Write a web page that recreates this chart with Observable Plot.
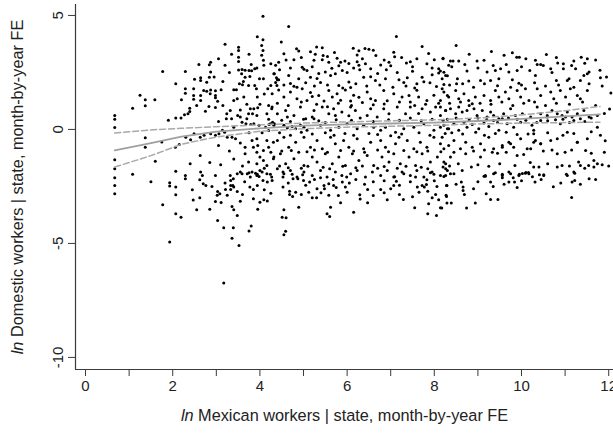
<!DOCTYPE html>
<html><head><meta charset="utf-8">
<script src="https://cdn.jsdelivr.net/npm/d3@7"></script>
<script src="https://cdn.jsdelivr.net/npm/@observablehq/plot@0.6"></script>
<style>html,body{margin:0;padding:0;background:#fff;}</style>
</head><body><div id="chart"></div>
<script>
const xTicks = [0,1,2,3,4,5,6,7,8,9,10,11,12];
const xTickLabels = ["0","","2","","4","","6","","8","","10","","12"];
const yTicks = [-10,-5,0,5];
const xTitle = "ln Mexican workers | state, month-by-year FE";
const yTitle = "ln Domestic workers | state, month-by-year FE";

// fitted local polynomial and its 95% band
const fitX  = [0.67,1.5,2.2,3,4,5,6,7,8,9,10,11,11.8];
const fitY  = [-0.92,-0.6,-0.32,-0.1,0.05,0.17,0.22,0.26,0.3,0.37,0.46,0.57,0.66];
const ciHi  = [-0.16,-0.02,0.05,0.12,0.2,0.28,0.33,0.38,0.42,0.5,0.64,0.82,1.01];
const ciLo  = [-1.65,-1.15,-0.65,-0.33,-0.08,0.03,0.1,0.14,0.18,0.24,0.28,0.3,0.32];

// scatter points [x, y]
const scatterLeft = [
[4.07,4.97],[1.77,2.54],[2.29,2.54],[1.08,0.93],[1.37,1.30],[1.37,1.04],[1.59,1.30],[0.67,0.61],[0.67,0.45],[0.67,0.09],[1.37,-0.36],[1.37,-0.78],[0.67,-1.33],[0.67,-1.72],[0.67,-2.12],[1.08,-1.97],
[3.2,3.74],[3.51,3.61],[3.51,3.46],[3.51,3.17],[3.51,2.98],[2.87,2.95],[2.84,2.84],[3.2,2.81],[2.64,2.27],[2.64,2.15],[2.78,2.07],[2.84,2.29],[2.87,2.52],[2.07,2.0],[2.29,1.78],[2.29,1.59],[2.48,1.78],
[2.71,1.71],[2.78,1.68],[2.87,1.73],[2.98,1.70],[3.11,1.74],[2.64,1.49],[2.64,1.27],[2.48,1.49],[2.48,1.32],[2.86,1.57],[2.98,1.49],[2.98,1.39],[3.03,1.24],[2.83,1.01],[2.98,0.96],[2.39,0.93],[2.39,0.79],[2.35,0.69],[2.07,0.5],[2.19,0.5],[2.27,0.64],
[3.4,1.74],[3.46,1.74],[3.53,2.0],[3.6,1.96],[3.74,1.93],[3.51,2.61],[3.59,2.63],[3.66,2.6],[3.75,2.59],[3.81,2.57],[3.88,2.66],[3.58,2.44],[3.66,2.29],[3.62,2.1],[3.77,2.32],
[3.94,4.07],[4.07,3.93],[4.04,3.68],[4.07,3.46],[4.04,3.25],[4.08,3.03],[4.09,2.81],[3.93,2.69],[3.99,2.22],[4.08,2.22],[3.88,1.93],[3.92,1.78],[3.94,1.42],[4.25,2.88],[4.33,2.44],[4.4,2.18],[4.39,1.93],[4.25,1.93],[4.18,1.78],
[3.4,1.27],[3.48,1.35],[3.63,1.42],[3.78,0.91],[3.86,0.91],[3.74,0.69],[3.83,0.69],[3.7,0.47],[3.93,0.61],[4.2,1.05],[4.27,0.91],[4.16,0.69],
[3.24,0.69],[3.32,0.83],[3.23,0.47],[3.35,0.47],[3.49,0.61],[3.55,0.54],[3.59,0.32],[3.68,0.25],[3.79,0.22],[3.86,0.25],[3.98,0.18],[4.13,0.1],[4.21,0.22],[4.29,0.32],[4.33,0.25],
[2.87,-0.19],[2.98,-0.26],[3.06,-0.19],[3.14,-0.04],[3.19,-0.12],[3.25,-0.34],[3.36,-0.34],[3.44,-0.41],[2.3,-0.34],[2.41,-0.45],[2.49,-0.19],[2.63,-0.34],[2.72,-0.26],[2.15,-0.66],[2.06,-0.78],
[3.66,-0.78],[3.85,-0.78],[3.93,-0.41],[3.82,-0.48],[4.16,-0.48],[4.31,-0.56],[4.08,-0.92],[4.2,-0.78],[2.63,-1.14],
[3.66,-1.07],[3.93,-1.0],[4.0,-1.21],[3.74,-1.43],[3.93,-1.51],[4.08,-1.36],[4.16,-1.58],[4.31,-1.29],
[2.07,-1.83],[2.29,-2.02],[2.29,-2.16],[2.64,-1.87],[2.68,-2.02],[2.98,-2.02],[3.32,-2.02],[3.48,-1.94],[3.55,-1.87],[3.71,-1.94],[3.82,-1.87],[3.93,-2.02],[4.0,-1.8],[4.16,-1.94],[4.27,-2.09],
[0.67,-2.46],[0.67,-2.82],[2.07,-2.53],[2.07,-2.86],[1.93,-2.34],[1.93,-2.48],[2.62,-2.21],[2.7,-2.38],[2.76,-2.46],[1.77,-3.3],[2.47,-3.09],[2.62,-3.0],[2.55,-3.52],[2.07,-3.7],[2.19,-3.85],[1.93,-4.94],[3.17,-6.74],
[3.03,-2.72],[3.08,-2.82],[3.02,-2.89],[2.98,-3.16],[3.11,-3.21],[3.21,-2.63],[3.25,-2.89],[3.33,-2.63],[3.38,-2.46],[3.4,-2.53],[3.48,-2.72],[3.33,-2.24],[3.39,-2.16],[3.33,-2.46],
[3.36,-3.38],[3.4,-3.52],[3.48,-3.77],[3.03,-3.99],[3.17,-4.31],[3.39,-4.31],[3.36,-4.77],[3.52,-5.09],[3.75,-4.46],[3.8,-4.24],
[3.59,-1.94],[3.75,-1.9],[3.78,-2.09],[3.9,-1.92],[3.94,-1.97],[3.98,-2.06],[4.05,-1.87],[4.07,-2.24],[4.17,-2.31],[4.24,-1.97],[4.28,-2.24],[3.77,-2.53],[3.85,-2.63],[3.94,-2.46],[3.85,-3.04],[4.0,-3.19],[4.09,-3.08],[4.17,-3.14]
];
const scatterLeftExtra = [
[2.5,2.2],[2.95,2.3],[3.3,2.5],[3.15,2.1],[2.6,2.85],[3.05,3.1],[3.35,3.3],[3.75,3.3],[3.8,2.85],[2.2,1.3],[2.55,1.05],[2.75,0.8],[3.15,1.05],[3.7,1.1],[3.55,0.85],[4.0,1.1],[4.1,1.55],[4.2,0.45],[3.95,0.95],[3.05,0.35],
[3.4,0.1],[3.75,-0.15],[4.05,-0.15],[4.2,-0.05],[3.55,-0.6],[3.3,-0.95],[3.05,-0.7],[3.95,-0.7],[4.25,-1.0],[3.4,-1.3],[3.1,-1.55],[3.6,-1.6],[2.85,-1.45],[2.4,-1.5],[4.1,-1.7],[3.2,-2.35],[2.9,-2.5],[3.65,-2.3],[4.1,-2.65],[3.6,-2.85],
[3.55,-3.15],[3.95,-3.5],[4.25,-2.8],[2.85,-3.5],[2.45,-2.65],[1.9,0.4],[1.75,-0.55],[1.6,-1.4],[1.5,-2.3],[1.25,1.5]
];
const scatterLow = [
[4.55,-3.52],[4.51,-3.85],[4.6,-3.87],[4.59,-4.47],[4.55,-4.62],[4.89,-3.41],[4.68,-2.71],[4.68,-2.85],[4.75,-2.94],[4.82,-2.75],[4.53,-2.53],[4.53,-2.09],[4.53,-1.87],[4.74,-1.97],[4.76,-2.16],[4.87,-2.16],[4.98,-1.99],[5.0,-2.24],
[5.12,-2.75],[5.2,-3.0],[5.3,-3.0],[5.14,-2.31],[5.31,-2.6],[5.39,-2.12],[5.47,-2.46],[5.48,-2.6],[5.58,-2.89],[5.62,-3.41],[5.54,-3.7],[5.6,-3.82],[5.58,-2.38],[5.68,-2.2],[5.69,-2.46],[5.85,-3.22],[5.89,-2.31],[5.96,-2.53],[5.99,-2.09],[6.15,-3.63],[6.29,-2.86],[6.47,-2.64],[6.47,-3.22],[6.77,-2.64],[6.92,-3.08],[7.07,-2.46],[7.13,-2.27],[7.09,-2.07],[7.29,-3.07],[7.3,-1.94],
[7.57,-2.09],[7.61,-2.53],[7.72,-2.46],[7.77,-2.53],[7.82,-2.41],[7.83,-2.21],[7.85,-2.71],[7.91,-1.9],[7.99,-1.97],[8.03,-2.85],[8.06,-2.5],[8.1,-3.08],[8.14,-3.43],[8.22,-2.06],[8.28,-2.46],[8.27,-2.89],[8.29,-3.23],[7.55,-3.43],[7.85,-3.7],[8.05,-3.77],[7.87,-3.26],
[8.26,-2.02],[8.37,-1.94],[8.29,-2.46],[8.28,-2.94],[8.39,-3.23],[8.17,-3.45],[8.62,-2.31],[8.66,-2.53],[8.66,-2.68],[8.69,-2.85],[8.94,-3.23],[8.74,-3.45],[9.14,-2.05],[9.17,-2.05],[9.29,-2.31],[9.19,-2.82],[9.29,-3.07],[9.46,-3.07],[9.4,-1.9],[9.56,-1.97],[9.56,-2.12],[9.71,-1.87],[9.71,-2.31],[9.81,-2.12],[9.84,-2.31],[9.95,-1.97],[10.02,-1.93],[10.1,-1.89],[10.16,-1.89],[10.25,-2.08],[10.31,-2.31],[10.41,-1.99],[10.51,-1.99],[10.73,-2.51],[11.03,-1.97],[11.15,-2.99],[11.16,-2.31],[11.22,-2.24],[11.22,-1.92],[11.55,-2.16]
];
const scatterMid = [
[4.66,4.52],[7.13,4.08],[4.49,3.83],[7.72,3.64],
[4.84,3.54],[4.89,3.44],[5.16,3.41],[5.3,3.62],[5.43,3.58],[5.27,3.3],[5.45,3.24],[5.71,3.37],[6.14,3.56],[6.27,3.45],[6.41,3.55],[6.5,3.52],[6.6,3.47],[6.66,3.24],[6.23,3.27],[7.07,3.39],[7.09,3.19],[7.87,3.33],
[4.36,2.81],[4.43,2.95],[4.55,3.32],[4.78,3.06],[4.97,2.73],[5.01,2.64],[5.24,3.03],[5.43,3.06],[5.58,2.95],[5.77,3.12],[5.85,2.95],[5.81,2.79],[5.89,2.59],[6.04,2.89],[6.23,2.97],[6.27,2.81],[6.29,2.62],[6.42,2.88],[6.54,2.66],[6.77,2.83],[6.96,2.95],[7.0,2.79],[7.36,2.91],[7.45,2.97],[7.6,3.1],[7.83,2.88],[8.0,3.06],[8.2,3.12],[8.1,2.66],[8.22,2.51],[8.33,2.81],
[4.32,2.44],[4.38,2.27],[4.43,2.18],[4.36,2.06],[4.66,2.37],[4.7,2.01],[4.78,1.89],[4.89,2.22],[5.08,2.59],[5.16,2.29],[5.31,2.23],[5.39,2.06],[5.5,2.52],[5.62,2.37],[5.73,2.44],[5.81,1.93],[6.04,2.08],[6.08,1.84],[6.38,2.29],[6.54,2.31],[6.65,2.15],[6.88,2.22],[7.19,2.18],[7.3,2.06],[7.38,2.27],[7.6,2.0],[7.72,2.29],[7.76,2.09],[8.1,2.48],[8.18,2.22],[8.22,1.97],
[4.28,1.57],[4.43,1.73],[4.55,1.42],[4.7,1.64],[4.85,1.35],[4.97,1.78],[5.08,1.27],[5.16,1.62],[5.2,1.44],[5.35,1.49],[5.47,1.25],[5.58,1.71],[5.66,1.42],[5.77,1.57],[5.85,1.28],[5.96,1.73],[6.08,1.25],[6.15,1.5],[6.27,1.41],[6.46,1.64],[6.54,1.35],[6.65,1.27],[6.84,1.71],[6.92,1.26],[7.07,1.57],[7.26,1.42],[7.42,1.49],[7.45,1.2],[7.6,1.72],[7.64,1.42],[7.83,1.27],[7.99,1.5],[8.14,1.27],[8.22,1.64],[8.33,1.42],
[4.28,0.98],[4.4,0.69],[4.59,0.83],[4.63,0.54],[4.78,0.61],[4.93,0.98],[5.05,0.47],[5.2,0.55],[5.24,0.83],[5.43,0.98],[5.58,0.69],[5.69,0.91],[5.73,0.61],[5.88,0.76],[6.04,0.6],[6.08,0.98],[6.19,0.83],[6.46,0.61],[6.54,0.91],[6.69,0.54],[6.84,0.91],[6.96,0.69],[7.15,0.98],[7.34,0.69],[7.45,0.98],[7.64,0.7],[7.72,0.91],[7.91,0.76],[8.03,0.98],[8.14,0.61],[8.26,0.83],
[4.24,0.25],[4.32,0.18],[4.55,0.18],[4.63,0.07],[4.74,0.13],[4.82,0.03],[4.93,0.18],[5.01,0.1],[5.08,-0.04],[5.24,0.47],[5.39,0.18],[5.62,-0.04],[5.81,0.1],[6.0,0.25],[6.23,0.03],[6.38,0.18],[6.61,0.1],[6.77,-0.04],[6.88,0.1],[7.11,-0.12],[7.3,0.03],[7.53,0.1],[7.76,0.25],[7.99,-0.04],[8.14,0.1],[8.3,0.03],
[4.4,-0.48],[4.55,-0.34],[4.66,-0.78],[4.82,-0.56],[5.01,-0.34],[5.16,-0.78],[5.31,-0.48],[5.43,-0.85],[5.62,-0.34],[5.73,-0.63],[5.92,-0.48],[6.04,-0.78],[6.23,-0.41],[6.38,-0.85],[6.54,-0.56],[6.77,-0.48],[6.88,-0.78],[7.11,-0.63],[7.19,-0.34],[7.38,-0.48],[7.53,-0.85],[7.68,-0.56],[7.83,-0.78],[7.99,-0.34],[8.14,-0.63],[8.22,-0.85],
[4.32,-1.21],[4.47,-1.07],[4.59,-1.5],[4.78,-1.29],[4.89,-1.0],[5.01,-1.58],[5.2,-1.21],[5.31,-1.43],[5.5,-1.07],[5.66,-1.5],[5.81,-1.21],[5.96,-1.58],[6.12,-1.07],[6.27,-1.36],[6.46,-1.14],[6.61,-1.58],[6.8,-1.21],[6.96,-1.43],[7.07,-1.07],[7.22,-1.5],[7.42,-1.21],[7.57,-1.58],[7.72,-1.07],[7.91,-1.43],[8.07,-1.21],[8.26,-1.5],
[4.4,-1.72],[4.55,-1.94],[4.7,-1.8],[4.85,-2.09],[5.01,-1.87],[5.2,-2.02],[5.39,-1.8],[5.54,-2.09],[5.73,-1.87],[5.88,-2.02],[6.08,-1.94],[6.23,-1.8],[6.42,-2.09],[6.58,-1.87],[6.77,-2.02],[6.92,-1.8],[7.07,-2.09],[7.26,-1.87],[7.45,-2.02],[7.6,-1.8],[7.76,-2.09],[7.95,-1.87],[8.14,-2.02],[8.3,-1.8]
];
const scatterMidExtra = [
[4.6,3.05],[4.95,3.15],[5.55,3.2],[5.95,3.0],[6.35,3.1],[6.85,3.05],[7.25,3.15],[7.5,2.75],[7.95,2.7],
[4.45,2.62],[4.7,2.7],[5.2,2.75],[5.35,2.45],[5.65,2.68],[6.0,2.5],[6.15,2.7],[6.7,2.45],[6.9,2.62],[7.15,2.5],[7.5,2.55],[7.95,2.4],[8.3,2.35],
[4.55,1.95],[4.85,1.85],[5.05,2.05],[5.25,1.9],[5.55,1.95],[5.9,1.82],[6.2,2.0],[6.45,1.9],[6.75,1.95],[7.05,1.85],[7.35,1.9],[7.55,1.82],[7.9,2.05],[8.05,1.88],
[4.4,1.15],[4.65,1.05],[4.95,1.2],[5.3,1.1],[5.55,1.0],[5.8,1.15],[6.1,1.05],[6.35,1.18],[6.6,1.08],[6.85,1.12],[7.2,1.2],[7.55,1.05],[7.8,1.1],[8.1,1.15],
[4.5,0.4],[4.7,0.35],[5.0,0.45],[5.35,0.38],[5.5,0.3],[5.75,0.42],[6.1,0.4],[6.3,0.5],[6.6,0.35],[6.95,0.42],[7.2,0.4],[7.45,0.5],[7.7,0.38],[7.95,0.45],[8.2,0.4],
[4.45,-0.15],[4.7,-0.25],[4.95,-0.12],[5.2,-0.2],[5.5,-0.15],[5.7,-0.25],[5.95,-0.18],[6.15,-0.25],[6.5,-0.18],[6.7,-0.22],[7.0,-0.28],[7.25,-0.2],[7.65,-0.15],[7.9,-0.25],[8.25,-0.18],
[4.5,-0.95],[4.72,-0.92],[5.08,-0.98],[5.25,-0.9],[5.55,-1.0],[5.85,-0.92],[6.15,-0.95],[6.4,-1.0],[6.7,-0.9],[6.95,-0.98],[7.3,-0.92],[7.6,-0.98],[7.85,-0.95],[8.15,-0.98],
[4.45,-1.6],[4.65,-1.68],[4.95,-1.7],[5.1,-1.62],[5.45,-1.66],[5.6,-1.72],[5.9,-1.62],[6.2,-1.68],[6.35,-1.6],[6.7,-1.7],[6.85,-1.63],[7.15,-1.7],[7.35,-1.62],[7.7,-1.66],[7.85,-1.72],[8.2,-1.65],
[4.65,-2.35],[5.05,-2.45],[5.25,-2.2],[5.75,-2.55],[6.05,-2.35],[6.2,-2.2],[6.4,-2.4],[6.6,-2.3],[6.85,-2.25],[7.0,-2.6],[7.2,-2.45],[7.45,-2.3],[7.65,-2.75],[8.0,-2.25],
[4.95,-2.85],[5.4,-2.78],[5.8,-2.9],[6.0,-2.75],[6.3,-3.05],[6.6,-2.9],[6.85,-2.78],[7.2,-2.85],[7.5,-2.95],[7.95,-3.0]
];
const scatterRight = [
[8.5,3.68],[9.31,3.42],[9.79,3.36],[9.89,3.17],[9.95,3.17],[10.57,3.29],[11.37,3.17],[11.51,3.1],[8.2,3.1],[8.37,3.0],[8.43,3.0],[8.56,3.0],[8.98,3.0],[9.14,3.03],[10.32,3.03],[10.36,2.85],[10.44,2.85],[10.83,2.91],[10.96,2.88],[10.96,2.66],[11.24,2.66],
[8.14,2.56],[8.26,2.37],[8.53,2.22],[8.51,2.0],[8.75,2.56],[8.79,2.12],[9.06,2.15],[9.21,2.52],[9.29,2.15],[9.4,2.59],[9.52,2.66],[9.48,2.22],[9.71,2.52],[9.9,2.59],[9.79,2.18],[9.94,2.03],[10.09,1.78],[10.19,2.59],[10.32,2.37],[10.67,2.66],[10.8,2.15],[11.05,2.15],[11.09,2.22],[11.35,2.15],[11.43,2.37],[11.51,2.44],[11.55,2.52],[11.81,2.27],
[8.18,1.78],[8.3,1.49],[8.49,1.71],[8.56,1.35],[8.68,1.57],[8.79,1.27],[8.94,1.42],[9.14,1.49],[9.29,1.27],[9.4,1.71],[9.48,1.42],[9.63,1.64],[9.71,1.35],[9.9,1.71],[9.98,1.42],[10.17,1.27],[10.36,1.78],[10.44,1.49],[10.67,1.64],[10.74,1.35],[10.89,1.71],[11.01,1.42],[11.12,1.78],[11.28,1.49],[11.35,1.35],[11.51,1.71],
[8.14,0.98],[8.26,0.83],[8.37,0.91],[8.49,0.69],[8.56,0.98],[8.64,0.76],[8.75,0.83],[8.87,1.13],[8.91,0.91],[8.98,0.61],[9.1,0.83],[9.21,0.54],[9.29,0.76],[9.36,0.61],[9.48,0.47],[9.59,0.69],[9.75,0.91],[9.86,0.61],[10.02,0.69],[10.21,0.54],[10.36,0.98],[10.44,0.69],[10.59,0.61],[10.7,0.83],[10.82,0.69],[10.93,0.61],[11.05,0.76],[11.16,0.54],[11.28,0.69],[11.43,0.83],[11.55,0.54],[11.74,0.61],
[8.22,0.18],[8.33,0.03],[8.45,0.25],[8.56,-0.04],[8.68,0.32],[8.75,0.1],[8.87,0.22],[9.02,0.03],[9.14,0.28],[9.25,0.13],[9.36,0.39],[9.48,-0.04],[9.56,0.47],[9.67,0.25],[9.82,0.1],[9.98,0.32],[10.24,0.18],[10.28,-0.04],[10.44,0.39],[10.59,0.54],[10.78,0.43],[10.89,0.25],[11.01,0.54],[11.2,0.39],[11.35,0.47],[11.74,0.1],
[8.18,-0.34],[8.33,-0.7],[8.45,-0.48],[8.6,-0.85],[8.72,-0.56],[8.87,-0.78],[9.06,-0.63],[9.25,-0.34],[9.36,-0.85],[9.56,-0.7],[9.71,-0.56],[9.82,-0.78],[9.98,-0.41],[10.21,-0.85],[10.28,-0.56],[10.44,-0.63],[10.67,-0.48],[10.82,-0.41],[11.05,-0.12],[11.28,-0.56],[11.51,-0.41],[11.81,-0.26],
[8.22,-1.43],[8.37,-1.21],[8.72,-1.07],[9.06,-1.21],[9.33,-1.0],[9.56,-0.78],[9.75,-0.63],[9.9,-1.14],[10.13,-0.85],[10.28,-0.19],[10.32,-0.48],[10.44,-0.63],[10.82,-1.07],[11.28,-0.56],[11.35,-1.58],[11.66,-1.36],[11.74,-1.5],[11.47,-0.92],
[8.26,-1.72],[8.45,-1.94],[8.64,-1.8],[9.17,-2.02],[9.36,-1.94],[9.56,-2.02],[9.75,-1.94],[9.94,-2.02],[10.09,-1.92],[10.17,-1.94],[10.28,-1.65],[10.4,-1.65],[10.51,-2.02],[10.82,-1.65],[10.93,-1.58],[11.05,-2.02],[11.2,-1.87],[11.31,-1.43],[11.54,-1.58],[11.66,-1.65],
[11.95,2.3],[12.02,0.9],[11.92,-0.5],[12.0,-1.6],[12.05,1.6]
];
const scatterRightExtra = [
[8.8,3.3],[9.6,3.25],[10.1,3.1],[10.8,3.15],[11.2,3.0],[11.7,3.05],
[8.4,2.75],[8.7,2.85],[9.0,2.7],[9.35,2.8],[9.65,2.85],[10.0,2.75],[10.5,2.8],[10.7,2.5],[11.15,2.8],[11.45,2.9],[11.8,2.6],
[8.35,1.95],[8.65,2.0],[8.9,1.85],[9.15,2.0],[9.45,1.92],[9.75,1.85],[10.0,1.95],[10.3,2.05],[10.55,1.9],[10.85,1.95],[11.2,1.85],[11.55,2.0],[11.85,1.9],
[8.35,1.15],[8.6,1.2],[8.8,1.05],[9.05,1.15],[9.3,1.1],[9.55,1.2],[9.8,1.05],[10.05,1.15],[10.3,1.2],[10.55,1.05],[10.8,1.15],[11.1,1.1],[11.4,1.2],[11.7,1.05],
[8.3,0.45],[8.5,0.5],[8.8,0.42],[9.0,0.5],[9.2,0.42],[9.45,0.3],[9.7,0.5],[9.9,0.45],[10.1,0.4],[10.35,0.3],[10.6,0.38],[10.95,0.45],[11.1,0.3],[11.45,0.35],[11.6,0.5],[11.9,0.7],
[8.4,-0.15],[8.65,-0.2],[8.95,-0.12],[9.15,-0.25],[9.4,-0.18],[9.65,-0.12],[9.9,-0.22],[10.15,-0.2],[10.6,-0.15],[10.95,-0.25],[11.2,-0.18],[11.6,-0.1],
[8.45,-1.0],[8.9,-0.95],[9.15,-0.9],[9.45,-1.05],[9.65,-1.0],[10.05,-1.1],[10.5,-0.95],[10.7,-0.9],[11.0,-1.0],[11.15,-0.9],[11.6,-1.05],[11.9,-1.0],
[8.35,-1.6],[8.55,-1.5],[8.85,-1.65],[9.0,-1.55],[9.25,-1.62],[9.5,-1.5],[9.85,-1.58],[10.2,-1.45],[10.6,-1.5],[11.1,-1.6],[11.45,-1.7],[11.85,-1.55],
[8.5,-2.4],[8.9,-2.6],[9.0,-2.3],[9.35,-2.5],[9.6,-2.4],[9.9,-2.55],[10.0,-2.25],[10.45,-2.2],[10.9,-2.35],[11.35,-2.4],[11.7,-2.2]
];

const X0 = -0.23, X1 = 12.11, Y0 = -10.53, Y1 = 5.48;
const points = [...scatterLeft, ...scatterLeftExtra, ...scatterLow, ...scatterMid, ...scatterMidExtra, ...scatterRight, ...scatterRightExtra].map(([x, y]) => ({x, y}));
const fit = fitX.map((x, i) => ({x, fit: fitY[i], hi: ciHi[i], lo: ciLo[i]}));
const axisColor = "#3a3a3a";

const chart = Plot.plot({
  width: 613, height: 434,
  marginLeft: 75, marginRight: 0, marginTop: 4, marginBottom: 65,
  x: {domain: [X0, X1]},
  y: {domain: [Y0, Y1]},
  style: {fontFamily: "'Liberation Sans', Arial, Helvetica, sans-serif", fontSize: "15px", color: "#222", background: "#fff"},
  marks: [
    Plot.dot(points, {x: "x", y: "y", r: 1.5, fill: "#000", stroke: null}),
    Plot.line(fit, {x: "x", y: "hi", stroke: "#a8a8a8", strokeWidth: 1.5, strokeDasharray: "6,3"}),
    Plot.line(fit, {x: "x", y: "lo", stroke: "#a8a8a8", strokeWidth: 1.5, strokeDasharray: "6,3"}),
    Plot.line(fit, {x: "x", y: "fit", stroke: "#a0a0a0", strokeWidth: 1.8}),
    Plot.ruleX([X0], {stroke: axisColor, strokeWidth: 1.2}),
    Plot.ruleY([Y0], {stroke: axisColor, strokeWidth: 1.2}),
    Plot.axisX({ticks: xTicks, tickSize: 7, tickPadding: 4, tickFormat: d => xTickLabels[xTicks.indexOf(d)], label: null, stroke: axisColor, fontSize: 15}),
    Plot.axisY({ticks: yTicks, tickSize: 7, tickFormat: () => "", label: null, stroke: axisColor}),
    Plot.text(yTicks, {x: () => X0, y: d => d, text: d => String(d), rotate: -90, dx: -17, textAnchor: "middle", lineAnchor: "middle", fontSize: 15}),
    Plot.text([xTitle], {frameAnchor: "bottom", dy: 46, text: d => d, fontSize: 16.3, textAnchor: "middle", lineAnchor: "middle"}),
    Plot.text([yTitle], {frameAnchor: "left", dx: -58, rotate: -90, text: d => d, fontSize: 16.3, textAnchor: "middle", lineAnchor: "middle"})
  ]
});

d3.select(chart).selectAll("text").each(function() {
  const t = this.textContent;
  if (t.startsWith("ln ")) {
    const rest = t.slice(2);
    this.textContent = "";
    d3.select(this).append("tspan").attr("font-style", "italic").text("ln");
    d3.select(this).append("tspan").text(rest);
  }
});
document.getElementById("chart").appendChild(chart);
</script>
</body></html>
